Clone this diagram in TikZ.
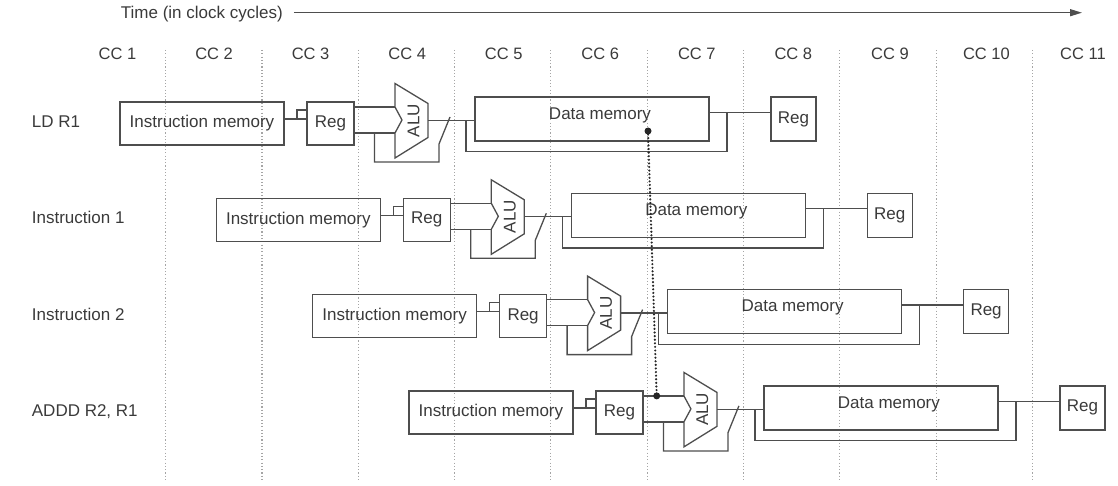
\documentclass[tikz,border=0pt]{standalone}
\usepackage{fontspec}
\setmainfont{Liberation Sans}
\usetikzlibrary{arrows.meta,calc}
\definecolor{ink}{HTML}{3A3A3A}
\definecolor{wirec}{HTML}{4E4E4E}
\definecolor{gridc}{HTML}{A5A5A5}
\begin{document}
\begin{tikzpicture}[x=1pt,y=-1pt,
  every node/.style={font=\fontsize{17pt}{20pt}\selectfont, text=ink, inner sep=0pt},
  box/.style={draw=wirec, line width=1.3pt},
  wire/.style={draw=wirec, line width=1.3pt},
  capc/.style={text height=12.2pt, text depth=0pt},
  gridl/.style={draw=gridc, line width=1.1pt, dash pattern=on 1.1pt off 2.2pt},
  dep/.style={draw=black!85, line width=2.4pt, dash pattern=on 0pt off 3.6pt, line cap=round}
]
\useasboundingbox (0,0) rectangle (1118,486);
% clock-cycle grid
\foreach \k in {0,...,9} \draw[gridl] ({165.7+96.3*\k},50) -- ({165.7+96.3*\k},482);
\foreach \k in {1,...,11} \node[capc, font=\fontsize{16.5pt}{20pt}\selectfont] (cc\k) at ({117.5+96.55*(\k-1)},53) {CC \k};
% time axis
\node[capc, anchor=west] (time) at (120.7,12.7) {Time (in clock cycles)};
\coordinate (tend) at (1082,12.7);
\draw[wire, -{Triangle[length=12pt,width=7pt]}] ([xshift=11pt]time.east) -- (tend);
% row labels
\node[capc, anchor=west] (lab0) at (31.7,121.7) {LD R1};
\node[capc, anchor=west] (lab1) at (31.7,217.9) {Instruction 1};
\node[capc, anchor=west] (lab2) at (31.7,314.1) {Instruction 2};
\node[capc, anchor=west] (lab3) at (31.7,410.3) {ADDD R2, R1};
% pipeline rows
\foreach \r in {0,1,2,3}{
  \pgfmathsetmacro{\d}{96.3*\r}
  \node[box, minimum width=164pt, minimum height=43pt] (im\r) at ({202+\d},{123.5+\d}) {Instruction memory};
  \node[box, minimum width=47pt, minimum height=43pt] (rg\r) at ({330.5+\d},{123.5+\d}) {Reg};
  \node[box, minimum width=234pt, minimum height=44pt] (dm\r) at ({592+\d},{119+\d}) {};
  \node[capc] (dmt\r) at ({600+\d},{113+\d}) {Data memory};
  \node[box, minimum width=45pt, minimum height=44pt] (wb\r) at ({793.5+\d},{119+\d}) {Reg};
  \coordinate (n1\r) at ({297+\d},{119+\d});
  \coordinate (n2\r) at ({297+\d},{110+\d});
  \coordinate (ai1\r) at ({395+\d},{107+\d});
  \coordinate (ai2\r) at ({395+\d},{133+\d});
  \coordinate (ao\r) at ({428+\d},{120.5+\d});
  \coordinate (fb\r) at ({374.5+\d},{133+\d});
  \coordinate (bk\r) at ({466+\d},{120.5+\d});
  \coordinate (br\r) at ({727+\d},{112.3+\d});
  % ALU
  \draw[wire] ({395+\d},{83.5+\d}) -- ({428+\d},{103.5+\d}) -- ({428+\d},{137.5+\d}) -- ({395+\d},{158+\d}) -- (ai2\r) -- ({402+\d},{120+\d}) -- (ai1\r) -- cycle;
  \node[rotate=90] (alu\r) at ({413.5+\d},{120.5+\d}) {ALU};
  % wires
  \draw[wire] (im\r.east |- n1\r) -- (rg\r.west |- n1\r);
  \draw[wire] (n1\r) -- (n2\r) -- (rg\r.west |- n2\r);
  \draw[wire] (rg\r.east |- ai1\r) -- (ai1\r);
  \draw[wire] (rg\r.east |- ai2\r) -- (ai2\r);
  \draw[wire] (fb\r) -- ++(0,29) -- ++(64.5,0) -- ++(0,-18) -- ++(11,-27);
  \draw[wire] (ao\r) -- (dm\r.west |- ao\r);
  \draw[wire] (bk\r) -- ++(0,31.2) -| (br\r);
  \draw[wire] (dm\r.east |- br\r) -- (wb\r.west |- br\r);
}
% load-use dependency
\coordinate (src) at (648,131);
\coordinate (tap) at (656.7,395.9);
\draw[dep] (src) -- (tap);
\fill[black!85] (src) circle[radius=3.5pt];
\fill[black!85] (tap) circle[radius=3.5pt];
\end{tikzpicture}
\end{document}
